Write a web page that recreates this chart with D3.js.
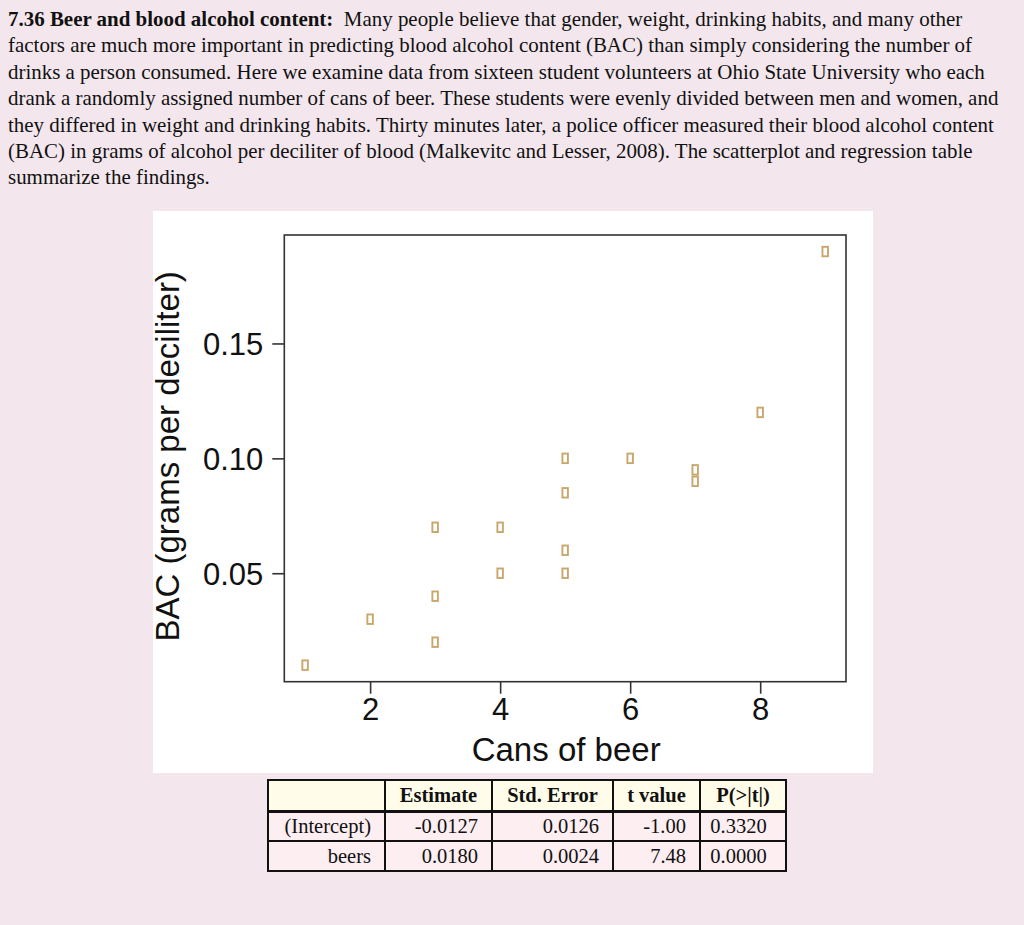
<!DOCTYPE html>
<html>
<head>
<meta charset="utf-8">
<script src="https://cdn.jsdelivr.net/npm/d3@7"></script>
<style>
  body { margin: 0; background: #f3e7ed; width: 1024px; height: 925px; overflow: hidden; position: relative; }
  .para { position: absolute; left: 8px; top: 6px; font-family: "Liberation Serif", "Times New Roman", serif;
    font-size: 20.95px; line-height: 26.4px; color: #111; white-space: nowrap; }
  .para b { font-weight: bold; }
  svg { position: absolute; left: 0; top: 0; }
  .tick-label { font-family: "Liberation Sans", Arial, sans-serif; font-size: 31px; fill: #111; }
  .axis-title { font-family: "Liberation Sans", Arial, sans-serif; font-size: 33px; fill: #111; }
  .reg { position: absolute; left: 267px; top: 779px; border-collapse: collapse; table-layout: fixed; width: 518px;
    font-family: "Liberation Serif", "Times New Roman", serif; font-size: 20.5px; color: #111; }
  .reg td, .reg th { border: 2px solid #111; padding: 0 13px 0 4px; text-align: right; box-sizing: border-box;
    overflow: hidden; white-space: nowrap; }
  .reg th { background: #fffde9; font-weight: bold; text-align: center; height: 31px; padding: 0 4px; }
  .reg thead tr { border-bottom: 3px solid #111; }
  .reg td { background: #fdeef1; height: 30px; }
</style>
</head>
<body>
<div class="para" id="para"></div>
<svg id="chart" width="1024" height="925"></svg>
<table class="reg" id="reg"></table>
<script>
// paragraph lines (as broken in the source)
const paraLines = [
  ['7.36 Beer and blood alcohol content:', '\u00a0 Many people believe that gender, weight, drinking habits, and many other'],
  ['', 'factors are much more important in predicting blood alcohol content (BAC) than simply considering the number of'],
  ['', 'drinks a person consumed. Here we examine data from sixteen student volunteers at Ohio State University who each'],
  ['', 'drank a randomly assigned number of cans of beer. These students were evenly divided between men and women, and'],
  ['', 'they differed in weight and drinking habits. Thirty minutes later, a police officer measured their blood alcohol content'],
  ['', '(BAC) in grams of alcohol per deciliter of blood (Malkevitc and Lesser, 2008). The scatterplot and regression table'],
  ['', 'summarize the findings.']
]

// data: cans of beer vs BAC
const beers = [5, 2, 9, 8, 3, 7, 3, 5, 3, 5, 4, 6, 5, 7, 1, 4]
const bac = [0.10, 0.03, 0.19, 0.12, 0.04, 0.095, 0.07, 0.06, 0.02, 0.05, 0.07, 0.10, 0.085, 0.09, 0.01, 0.05]
const xTicks = [2, 4, 6, 8]
const yTicks = [0.05, 0.10, 0.15]

// regression table
const regHeader = ['', 'Estimate', 'Std. Error', 't value', 'P(>|t|)']
const regRows = ['(Intercept)', 'beers']
const regEstimate = ['-0.0127', '0.0180']
const regStdErr = ['0.0126', '0.0024']
const regT = ['-1.00', '7.48']
const regP = ['0.3320', '0.0000']
const colWidths = [117, 107, 121, 87, 86]

//paragraph
const para = d3.select('#para')
paraLines.forEach(l => {
  let line = para.append('div')
  if (l[0]) line.append('b').text(l[0])
  line.append('span').text(l[1])
})

//chart
const
  panel = {x: 153, y: 211, w: 720, h: 562},
  plot = {left: 284.3, right: 846, top: 235, bottom: 681.7},
  tickLen = 12,
  markW = 5.5, markH = 9.5,
  markColor = '#c9a66b'

// R-style 4% padding on the data range
const padRange = (lo, hi) => [lo - (hi - lo) * 0.04, hi + (hi - lo) * 0.04]

const x = d3.scaleLinear()
  .domain(padRange(d3.min(beers), d3.max(beers)))
  .range([plot.left, plot.right])
const y = d3.scaleLinear()
  .domain(padRange(d3.min(bac), d3.max(bac)))
  .range([plot.bottom, plot.top])

const svg = d3.select('#chart')

svg.append('rect')
  .attr('x', panel.x).attr('y', panel.y)
  .attr('width', panel.w).attr('height', panel.h)
  .attr('fill', '#fff')

//box
svg.append('rect')
  .attr('x', plot.left).attr('y', plot.top)
  .attr('width', plot.right - plot.left).attr('height', plot.bottom - plot.top)
  .attr('fill', 'none').attr('stroke', '#333').attr('stroke-width', 1.6)

//axes
const xAxis = svg.append('g')
  .attr('transform', 'translate(0,' + plot.bottom + ')')
  .call(d3.axisBottom(x).tickValues(xTicks).tickSize(tickLen).tickPadding(4).tickFormat(d3.format('d')))
const yAxis = svg.append('g')
  .attr('transform', 'translate(' + plot.left + ',0)')
  .call(d3.axisLeft(y).tickValues(yTicks).tickSize(tickLen).tickPadding(9).tickFormat(d3.format('.2f')))

;[xAxis, yAxis].forEach(a => {
  a.select('.domain').remove()
  a.selectAll('line').attr('stroke', '#333').attr('stroke-width', 1.6)
  a.selectAll('text').attr('class', 'tick-label').attr('fill', '#111')
    .style('font-family', '"Liberation Sans", Arial, sans-serif').style('font-size', '31px')
})
xAxis.selectAll('text').attr('dy', '0.72em')
yAxis.selectAll('text').attr('dy', '0.36em')

//axis titles
svg.append('text')
  .attr('class', 'axis-title')
  .attr('x', (plot.left + plot.right) / 2 + 1).attr('y', 761)
  .attr('text-anchor', 'middle')
  .text('Cans of beer')
svg.append('text')
  .attr('class', 'axis-title')
  .attr('transform', 'translate(179,' + ((plot.top + plot.bottom) / 2 - 2) + ') rotate(-90)')
  .attr('text-anchor', 'middle')
  .text('BAC (grams per deciliter)')

//points
svg.append('g')
  .selectAll('rect')
  .data(d3.zip(beers, bac))
  .enter()
  .append('rect')
  .attr('x', d => x(d[0]) - markW / 2)
  .attr('y', d => y(d[1]) - markH / 2)
  .attr('width', markW).attr('height', markH)
  .attr('fill', 'none').attr('stroke', markColor).attr('stroke-width', 1.9)

//table
const table = d3.select('#reg')
table.append('colgroup').selectAll('col').data(colWidths).enter().append('col')
  .style('width', d => d + 'px')
table.append('thead').append('tr')
  .selectAll('th').data(regHeader).enter().append('th')
  .text(d => d)
const body = table.append('tbody')
regRows.forEach((r, i) => {
  body.append('tr').selectAll('td')
    .data([r, regEstimate[i], regStdErr[i], regT[i], regP[i]])
    .enter().append('td')
    .style('text-align', (d, j) => j == 4 ? 'center' : 'right')
    .text(d => d)
})
</script>
</body>
</html>
